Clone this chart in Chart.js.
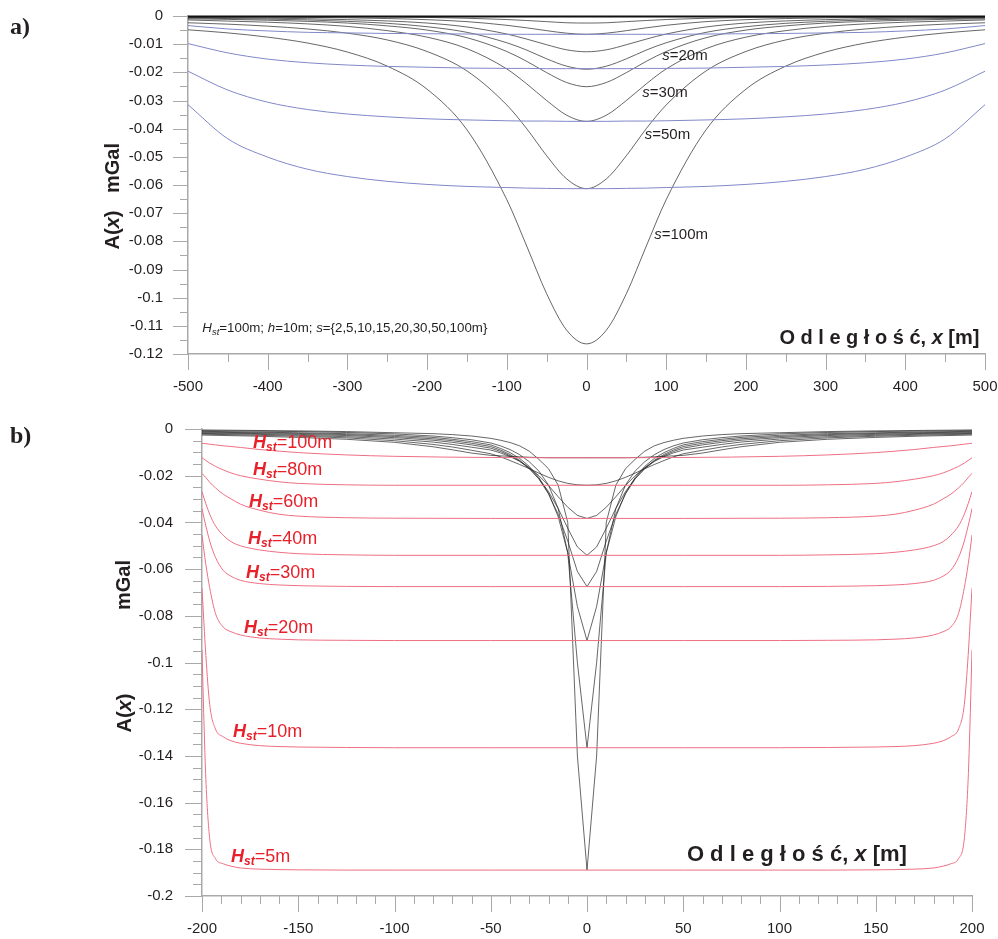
<!DOCTYPE html>
<html>
<head>
<meta charset="utf-8">
<script src="https://cdn.jsdelivr.net/npm/chart.js"></script>
<style>
  body { margin: 0; background: #fff; }
  #wrap { position: relative; width: 998px; height: 939px; }
  canvas { position: absolute; left: 0; }
</style>
</head>
<body>
<div id="wrap">
  <canvas id="chartA" width="998" height="410" style="top:0;width:998px;height:410px"></canvas>
  <canvas id="chartB" width="998" height="529" style="top:410px;width:998px;height:529px"></canvas>
</div>
<script>
// ---------- panel a) : profiles for s = 2..100 m (Hst = 100 m, h = 10 m) ----------
const xA = [-500, -450, -400, -350, -300, -250, -200, -150, -100, -75, -50, -25, 0,
            25, 50, 75, 100, 150, 200, 250, 300, 350, 400, 450, 500];

const aS2   = [-0.0001, -0.00012, -0.00015, -0.0002, -0.00025, -0.00035, -0.0005, -0.0008, -0.00125, -0.0016, -0.002, -0.0024, -0.0025, -0.0024, -0.002, -0.0016, -0.00125, -0.0008, -0.0005, -0.00035, -0.00025, -0.0002, -0.00015, -0.00012, -0.0001];
const aS5   = [-0.00025, -0.0003, -0.00038, -0.0005, -0.00065, -0.0009, -0.0013, -0.002, -0.0033, -0.0042, -0.0052, -0.0061, -0.0065, -0.0061, -0.0052, -0.0042, -0.0033, -0.002, -0.0013, -0.0009, -0.00065, -0.0005, -0.00038, -0.0003, -0.00025];
const aS10  = [-0.0005, -0.0006, -0.00075, -0.00096, -0.0013, -0.00175, -0.0025, -0.0039, -0.0064, -0.0082, -0.0102, -0.012, -0.0127, -0.012, -0.0102, -0.0082, -0.0064, -0.0039, -0.0025, -0.00175, -0.0013, -0.00096, -0.00075, -0.0006, -0.0005];
const aS15  = [-0.0007, -0.0009, -0.0011, -0.0014, -0.0019, -0.0026, -0.0038, -0.0058, -0.0095, -0.0121, -0.0152, -0.0178, -0.0189, -0.0178, -0.0152, -0.0121, -0.0095, -0.0058, -0.0038, -0.0026, -0.0019, -0.0014, -0.0011, -0.0009, -0.0007];
const aS20  = [-0.001, -0.0012, -0.0015, -0.0019, -0.0025, -0.0035, -0.005, -0.0077, -0.0126, -0.0161, -0.0201, -0.0236, -0.0251, -0.0236, -0.0201, -0.0161, -0.0126, -0.0077, -0.005, -0.0035, -0.0025, -0.0019, -0.0015, -0.0012, -0.001];
const aS30  = [-0.0014, -0.0018, -0.0022, -0.0028, -0.0037, -0.0052, -0.0075, -0.0116, -0.0188, -0.0241, -0.03, -0.0352, -0.0374, -0.0352, -0.03, -0.0241, -0.0188, -0.0116, -0.0075, -0.0052, -0.0037, -0.0028, -0.0022, -0.0018, -0.0014];
const aS50  = [-0.0024, -0.0029, -0.0036, -0.0046, -0.0061, -0.0085, -0.0126, -0.0195, -0.0316, -0.04, -0.0496, -0.0578, -0.0613, -0.0578, -0.0496, -0.04, -0.0316, -0.0195, -0.0126, -0.0085, -0.0061, -0.0046, -0.0036, -0.0029, -0.0024];
const aS100 = [-0.0049, -0.006, -0.0075, -0.0096, -0.0128, -0.0178, -0.026, -0.0404, -0.0652, -0.0817, -0.0986, -0.1115, -0.1164, -0.1115, -0.0986, -0.0817, -0.0652, -0.0404, -0.026, -0.0178, -0.0128, -0.0096, -0.0075, -0.006, -0.0049];

// blue (wide layer) curves
const aB1 = [-0.0034, -0.0046, -0.0053, -0.0058, -0.006, -0.0062, -0.0063, -0.0064, -0.0065, -0.0065, -0.0065, -0.0065, -0.0065, -0.0065, -0.0065, -0.0065, -0.0065, -0.0064, -0.0063, -0.0062, -0.006, -0.0058, -0.0053, -0.0046, -0.0034];
const aB2 = [-0.0098, -0.0131, -0.0153, -0.0166, -0.0174, -0.0179, -0.0182, -0.0185, -0.0186, -0.0186, -0.0187, -0.0187, -0.0187, -0.0187, -0.0187, -0.0186, -0.0186, -0.0185, -0.0182, -0.0179, -0.0174, -0.0166, -0.0153, -0.0131, -0.0098];
const aB3 = [-0.0196, -0.0263, -0.0306, -0.0332, -0.0348, -0.0358, -0.0365, -0.0369, -0.0372, -0.0373, -0.0373, -0.0374, -0.0374, -0.0374, -0.0373, -0.0373, -0.0372, -0.0369, -0.0365, -0.0358, -0.0348, -0.0332, -0.0306, -0.0263, -0.0196];
const aB4 = [-0.0315, -0.0436, -0.0501, -0.0544, -0.057, -0.0587, -0.0598, -0.0605, -0.0609, -0.0611, -0.0612, -0.0613, -0.0613, -0.0613, -0.0612, -0.0611, -0.0609, -0.0605, -0.0598, -0.0587, -0.057, -0.0544, -0.0501, -0.0436, -0.0315];

const sNames = ['20m', '30m', '50m', '100m'];
const sLabelX = [95, 70, 73, 85];
const sLabelY = [-0.0142, -0.0274, -0.0423, -0.0776];

// ---------- panel b) : profiles for Hst = 5..100 m ----------
const xB = [-200, -175, -150, -125, -100, -80, -70, -60, -50, -45, -40, -35, -30, -25, -20, -15, -10, -5, 0,
            5, 10, 15, 20, 25, 30, 35, 40, 45, 50, 60, 70, 80, 100, 125, 150, 175, 200];

const bK100 = [-0.0026, -0.003, -0.0036, -0.0044, -0.0057, -0.0076, -0.0089, -0.0103, -0.0113, -0.0115, -0.0117, -0.0119, -0.0121, -0.0122, -0.0123, -0.0123, -0.0123, -0.0123, -0.0123, -0.0123, -0.0123, -0.0123, -0.0123, -0.0122, -0.0121, -0.0119, -0.0117, -0.0115, -0.0113, -0.0103, -0.0089, -0.0076, -0.0057, -0.0044, -0.0036, -0.003, -0.0026];
const bK80  = [-0.0022, -0.0026, -0.0031, -0.0038, -0.005, -0.0066, -0.0077, -0.0091, -0.0106, -0.0119, -0.0135, -0.0152, -0.017, -0.0189, -0.0207, -0.0222, -0.0233, -0.0239, -0.0241, -0.0239, -0.0233, -0.0222, -0.0207, -0.0189, -0.017, -0.0152, -0.0135, -0.0119, -0.0106, -0.0091, -0.0077, -0.0066, -0.005, -0.0038, -0.0031, -0.0026, -0.0022];
const bK60  = [-0.0019, -0.0022, -0.0027, -0.0033, -0.0043, -0.0056, -0.0066, -0.0078, -0.009, -0.0102, -0.0118, -0.0138, -0.0165, -0.02, -0.0242, -0.029, -0.0335, -0.037, -0.0383, -0.037, -0.0335, -0.029, -0.0242, -0.02, -0.0165, -0.0138, -0.0118, -0.0102, -0.009, -0.0078, -0.0066, -0.0056, -0.0043, -0.0033, -0.0027, -0.0022, -0.0019];
const bK40  = [-0.0016, -0.0019, -0.0023, -0.0028, -0.0037, -0.0048, -0.0057, -0.0068, -0.0082, -0.0096, -0.0114, -0.0138, -0.017, -0.0212, -0.0268, -0.034, -0.0425, -0.0505, -0.0541, -0.0505, -0.0425, -0.034, -0.0268, -0.0212, -0.017, -0.0138, -0.0114, -0.0096, -0.0082, -0.0068, -0.0057, -0.0048, -0.0037, -0.0028, -0.0023, -0.0019, -0.0016];
const bK30  = [-0.0013, -0.0016, -0.0019, -0.0024, -0.0032, -0.0042, -0.005, -0.0061, -0.0075, -0.009, -0.0109, -0.0134, -0.0168, -0.0214, -0.0278, -0.0365, -0.048, -0.061, -0.0675, -0.061, -0.048, -0.0365, -0.0278, -0.0214, -0.0168, -0.0134, -0.0109, -0.009, -0.0075, -0.0061, -0.005, -0.0042, -0.0032, -0.0024, -0.0019, -0.0016, -0.0013];
const bK20  = [-0.001, -0.0013, -0.0016, -0.002, -0.0027, -0.0036, -0.0044, -0.0054, -0.0068, -0.0083, -0.0101, -0.0126, -0.016, -0.0208, -0.0275, -0.0375, -0.053, -0.076, -0.0906, -0.076, -0.053, -0.0375, -0.0275, -0.0208, -0.016, -0.0126, -0.0101, -0.0083, -0.0068, -0.0054, -0.0044, -0.0036, -0.0027, -0.002, -0.0016, -0.0013, -0.001];
const bK10  = [-0.0007, -0.0009, -0.0011, -0.0015, -0.0021, -0.003, -0.0037, -0.0046, -0.006, -0.0072, -0.0088, -0.011, -0.014, -0.018, -0.024, -0.034, -0.053, -0.1, -0.1365, -0.1, -0.053, -0.034, -0.024, -0.018, -0.014, -0.011, -0.0088, -0.0072, -0.006, -0.0046, -0.0037, -0.003, -0.0021, -0.0015, -0.0011, -0.0009, -0.0007];
const bK5   = [-0.0004, -0.0006, -0.0008, -0.0011, -0.0016, -0.002, -0.0024, -0.003, -0.004, -0.0048, -0.0058, -0.0072, -0.0095, -0.013, -0.017, -0.024, -0.04, -0.14, -0.1889, -0.14, -0.04, -0.024, -0.017, -0.013, -0.0095, -0.0072, -0.0058, -0.0048, -0.004, -0.003, -0.0024, -0.002, -0.0016, -0.0011, -0.0008, -0.0006, -0.0004];

// red (layer) curves, sampled densely near the ends
const xR = [-200, -199, -198, -196, -193, -189, -185, -180, -170, -160, -150, -125, -100, -50, 0,
            50, 100, 125, 150, 160, 170, 180, 185, 189, 193, 196, 198, 199, 200];

const bR100 = [-0.0061, -0.0062, -0.0063, -0.0065, -0.0068, -0.0072, -0.0075, -0.0079, -0.0088, -0.0095, -0.0101, -0.0111, -0.0117, -0.0122, -0.0123, -0.0122, -0.0117, -0.0111, -0.0101, -0.0095, -0.0088, -0.0079, -0.0075, -0.0072, -0.0068, -0.0065, -0.0063, -0.0062, -0.0061];
const bR80  = [-0.0123, -0.0129, -0.0135, -0.0146, -0.016, -0.0175, -0.0188, -0.02, -0.0215, -0.0226, -0.0233, -0.0239, -0.0241, -0.0241, -0.0241, -0.0241, -0.0241, -0.0239, -0.0233, -0.0226, -0.0215, -0.02, -0.0188, -0.0175, -0.016, -0.0146, -0.0135, -0.0129, -0.0123];
const bR60  = [-0.019, -0.0199, -0.0208, -0.0228, -0.0252, -0.0279, -0.0299, -0.0322, -0.0348, -0.0365, -0.0373, -0.038, -0.0382, -0.0383, -0.0383, -0.0383, -0.0382, -0.038, -0.0373, -0.0365, -0.0348, -0.0322, -0.0299, -0.0279, -0.0252, -0.0228, -0.0208, -0.0199, -0.019];
const bR40  = [-0.0268, -0.0295, -0.032, -0.0365, -0.0415, -0.0455, -0.0482, -0.05, -0.0518, -0.0528, -0.0534, -0.0539, -0.0541, -0.0541, -0.0541, -0.0541, -0.0541, -0.0539, -0.0534, -0.0528, -0.0518, -0.05, -0.0482, -0.0455, -0.0415, -0.0365, -0.032, -0.0295, -0.0268];
const bR30  = [-0.034, -0.038, -0.0415, -0.048, -0.055, -0.0605, -0.063, -0.0648, -0.0662, -0.0668, -0.0671, -0.0674, -0.0675, -0.0675, -0.0675, -0.0675, -0.0675, -0.0674, -0.0671, -0.0668, -0.0662, -0.0648, -0.063, -0.0605, -0.055, -0.048, -0.0415, -0.038, -0.034];
const bR20  = [-0.0454, -0.052, -0.058, -0.068, -0.079, -0.0848, -0.0868, -0.0882, -0.0895, -0.09, -0.0903, -0.0905, -0.0906, -0.0906, -0.0906, -0.0906, -0.0906, -0.0905, -0.0903, -0.09, -0.0895, -0.0882, -0.0868, -0.0848, -0.079, -0.068, -0.058, -0.052, -0.0454];
const bR10  = [-0.0682, -0.083, -0.097, -0.118, -0.1285, -0.1318, -0.1335, -0.1346, -0.1356, -0.136, -0.1362, -0.1364, -0.1365, -0.1365, -0.1365, -0.1365, -0.1365, -0.1364, -0.1362, -0.136, -0.1356, -0.1346, -0.1335, -0.1318, -0.1285, -0.118, -0.097, -0.083, -0.0682];
const bR5   = [-0.0946, -0.125, -0.15, -0.1755, -0.184, -0.1862, -0.1872, -0.188, -0.1885, -0.1887, -0.1888, -0.1889, -0.1889, -0.1889, -0.1889, -0.1889, -0.1889, -0.1889, -0.1888, -0.1887, -0.1885, -0.188, -0.1872, -0.1862, -0.184, -0.1755, -0.15, -0.125, -0.0946];

const hNames = ['100m', '80m', '60m', '40m', '30m', '20m', '10m', '5m'];
const hLabelX = [-173.5, -173.5, -175.6, -176.1, -177.1, -178.2, -183.9, -184.9];
const hLabelY = [-0.006, -0.0176, -0.0313, -0.0471, -0.0617, -0.0852, -0.1298, -0.1833];

// ---------- styling helpers ----------
const FONT = '"Liberation Sans", Arial, sans-serif';
const TEXT = '#231f20';
const AXIS = '#a9a9a9';
const RED_TEXT = '#e8202a';

function pts(xs, ys) {
  return xs.map((x, i) => ({ x: x, y: ys[i] }));
}

function line(xs, ys, color, width, smooth) {
  return {
    data: pts(xs, ys),
    showLine: true,
    borderColor: color,
    borderWidth: width,
    pointRadius: 0,
    pointHoverRadius: 0,
    fill: false,
    tension: 0,
    cubicInterpolationMode: smooth ? 'monotone' : 'default'
  };
}

const fmt = v => String(parseFloat(Number(v).toFixed(3)));

// invisible tick marks of length `gap` push the labels away from the axis;
// the visible (major/minor) tick marks are drawn by the decor plugins
function scaleOpts(min, max, step, gap, fitFn) {
  return {
    type: 'linear', min: min, max: max,
    grid: { display: true, drawOnChartArea: false, drawTicks: true, tickLength: gap,
            color: 'rgba(0,0,0,0)', tickColor: 'rgba(0,0,0,0)' },
    border: { display: true, color: AXIS, width: 1.5 },
    ticks: { stepSize: step, autoSkip: false, maxRotation: 0, padding: 0,
             color: TEXT, font: { family: FONT, size: 15 }, callback: fmt },
    afterFit: fitFn
  };
}

// draw text made of several styled pieces
function rich(ctx, parts, x, y, align, color) {
  let w = 0;
  parts.forEach(p => { ctx.font = p.f; w += ctx.measureText(p.t).width; });
  let cx = align === 'right' ? x - w : (align === 'center' ? x - w / 2 : x);
  parts.forEach(p => {
    ctx.font = p.f;
    ctx.fillStyle = p.c || color;
    ctx.fillText(p.t, cx, y + (p.dy || 0));
    cx += ctx.measureText(p.t).width;
  });
}

// minor + major tick marks on both axes
function tickMarks(chart, t) {
  const { ctx, chartArea: a, scales: { x, y } } = chart;
  ctx.save();
  ctx.strokeStyle = AXIS;
  ctx.lineWidth = 1;
  ctx.beginPath();
  const ny = Math.round((y.max - y.min) / t.yMinor);
  for (let i = 0; i <= ny; i++) {
    const py = Math.round(y.getPixelForValue(y.min + i * t.yMinor)) + 0.5;
    const len = i % t.yEvery === 0 ? t.yLen[0] : t.yLen[1];
    ctx.moveTo(a.left - len, py);
    ctx.lineTo(a.left, py);
  }
  const nx = Math.round((x.max - x.min) / t.xMinor);
  for (let i = 0; i <= nx; i++) {
    const px = Math.round(x.getPixelForValue(x.min + i * t.xMinor)) + 0.5;
    const len = i % t.xEvery === 0 ? t.xLen[0] : t.xLen[1];
    ctx.moveTo(px, a.bottom);
    ctx.lineTo(px, a.bottom + len);
  }
  ctx.stroke();
  ctx.restore();
}

function yTitle(ctx, cx, cy, size) {
  ctx.save();
  ctx.translate(cx, cy);
  ctx.rotate(-Math.PI / 2);
  rich(ctx, [
    { t: 'A(', f: `bold ${size}px ${FONT}` },
    { t: 'x', f: `bold italic ${size}px ${FONT}` },
    { t: ')', f: `bold ${size}px ${FONT}` }
  ], 0, 0, 'center', TEXT);
  ctx.restore();
}

function mGal(ctx, cx, cy, size) {
  ctx.save();
  ctx.translate(cx, cy);
  ctx.rotate(-Math.PI / 2);
  rich(ctx, [{ t: 'mGal', f: `bold ${size}px ${FONT}` }], 0, 0, 'center', TEXT);
  ctx.restore();
}

function distanceTitle(ctx, x, y, size) {
  rich(ctx, [
    { t: 'O d l e g ł o ś ć, ', f: `bold ${size}px ${FONT}` },
    { t: 'x', f: `bold italic ${size}px ${FONT}` },
    { t: ' [m]', f: `bold ${size}px ${FONT}` }
  ], x, y, 'right', TEXT);
}

// ---------- chart a ----------
const decorA = {
  id: 'decorA',
  afterDraw(chart) {
    const { ctx, chartArea: a, scales: { x, y } } = chart;
    tickMarks(chart, { yMinor: 0.005, yEvery: 2, yLen: [15, 8], xMinor: 50, xEvery: 2, xLen: [16, 8] });
    ctx.save();
    // heavy zero line along the top
    ctx.strokeStyle = '#111';
    ctx.lineWidth = 2;
    ctx.beginPath();
    ctx.moveTo(a.left, y.getPixelForValue(0) + 0.5);
    ctx.lineTo(a.right, y.getPixelForValue(0) + 0.5);
    ctx.stroke();

    ctx.textBaseline = 'middle';
    ctx.font = `bold 24px "Liberation Serif", serif`;
    ctx.fillStyle = TEXT;
    ctx.fillText('a)', 10, 28);
    yTitle(ctx, 113, 230, 20);
    mGal(ctx, 113, 168, 20);

    sNames.forEach((n, i) => {
      rich(ctx, [
        { t: 's', f: `italic 15px ${FONT}` },
        { t: '=' + n, f: `15px ${FONT}` }
      ], x.getPixelForValue(sLabelX[i]), y.getPixelForValue(sLabelY[i]), 'left', TEXT);
    });

    rich(ctx, [
      { t: 'H', f: `italic 13.3px ${FONT}` },
      { t: 'st', f: `italic 9.5px ${FONT}`, dy: 4 },
      { t: '=100m; ', f: `13.3px ${FONT}` },
      { t: 'h', f: `italic 13.3px ${FONT}` },
      { t: '=10m; ', f: `13.3px ${FONT}` },
      { t: 's', f: `italic 13.3px ${FONT}` },
      { t: '={2,5,10,15,20,30,50,100m}', f: `13.3px ${FONT}` }
    ], x.getPixelForValue(-482), y.getPixelForValue(-0.111), 'left', TEXT);

    distanceTitle(ctx, x.getPixelForValue(493), y.getPixelForValue(-0.1146), 20);
    ctx.restore();
  }
};

const BLACK = 'rgba(30,30,30,0.85)';
const BLUE = '#8088c8';
const RED = '#ee6f84';

new Chart(document.getElementById('chartA'), {
  type: 'scatter',
  data: {
    datasets: [
      line(xA, aB1, BLUE, 1, true),
      line(xA, aB2, BLUE, 1, true),
      line(xA, aB3, BLUE, 1, true),
      line(xA, aB4, BLUE, 1, true),
      line(xA, aS2, BLACK, 0.8, true),
      line(xA, aS5, BLACK, 0.8, true),
      line(xA, aS10, BLACK, 0.8, true),
      line(xA, aS15, BLACK, 0.8, true),
      line(xA, aS20, BLACK, 0.8, true),
      line(xA, aS30, BLACK, 0.8, true),
      line(xA, aS50, BLACK, 0.8, true),
      line(xA, aS100, BLACK, 0.8, true)
    ]
  },
  options: {
    responsive: false,
    animation: false,
    devicePixelRatio: 1,
    layout: { padding: { top: 16, right: 13, bottom: 0, left: 0 } },
    plugins: { legend: { display: false }, tooltip: { enabled: false } },
    scales: {
      x: scaleOpts(-500, 500, 100, 24, s => { s.height = 56; }),
      y: scaleOpts(-0.12, 0, 0.01, 25, s => { s.width = 188; })
    }
  },
  plugins: [decorA]
});

// ---------- chart b ----------
const decorB = {
  id: 'decorB',
  afterDraw(chart) {
    const { ctx, scales: { x, y } } = chart;
    tickMarks(chart, { yMinor: 0.005, yEvery: 4, yLen: [17, 9], xMinor: 10, xEvery: 5, xLen: [16, 8] });
    ctx.save();
    ctx.textBaseline = 'middle';
    ctx.font = `bold 24px "Liberation Serif", serif`;
    ctx.fillStyle = TEXT;
    ctx.fillText('b)', 10, 27);
    mGal(ctx, 124, 175, 20);
    yTitle(ctx, 125, 303, 20);

    hNames.forEach((n, i) => {
      rich(ctx, [
        { t: 'H', f: `bold italic 18px ${FONT}` },
        { t: 'st', f: `bold italic 12px ${FONT}`, dy: 5 },
        { t: '=' + n, f: `18px ${FONT}` }
      ], x.getPixelForValue(hLabelX[i]), y.getPixelForValue(hLabelY[i]), 'left', RED_TEXT);
    });

    distanceTitle(ctx, x.getPixelForValue(166.2), y.getPixelForValue(-0.1824), 22);
    ctx.restore();
  }
};

new Chart(document.getElementById('chartB'), {
  type: 'scatter',
  data: {
    datasets: [
      line(xR, bR100, RED, 1, true),
      line(xR, bR80, RED, 1, true),
      line(xR, bR60, RED, 1, true),
      line(xR, bR40, RED, 1, true),
      line(xR, bR30, RED, 1, true),
      line(xR, bR20, RED, 1, true),
      line(xR, bR10, RED, 1, true),
      line(xR, bR5, RED, 1, true),
      line(xB, bK100, BLACK, 0.8, false),
      line(xB, bK80, BLACK, 0.8, false),
      line(xB, bK60, BLACK, 0.8, false),
      line(xB, bK40, BLACK, 0.8, false),
      line(xB, bK30, BLACK, 0.8, false),
      line(xB, bK20, BLACK, 0.8, false),
      line(xB, bK10, BLACK, 0.8, false),
      line(xB, bK5, BLACK, 0.8, false)
    ]
  },
  options: {
    responsive: false,
    animation: false,
    devicePixelRatio: 1,
    layout: { padding: { top: 19, right: 26, bottom: 0, left: 0 } },
    plugins: { legend: { display: false }, tooltip: { enabled: false } },
    scales: {
      x: scaleOpts(-200, 200, 50, 24, s => { s.height = 43; }),
      y: scaleOpts(-0.2, 0, 0.02, 29, s => { s.width = 202; })
    }
  },
  plugins: [decorB]
});
</script>
</body>
</html>
